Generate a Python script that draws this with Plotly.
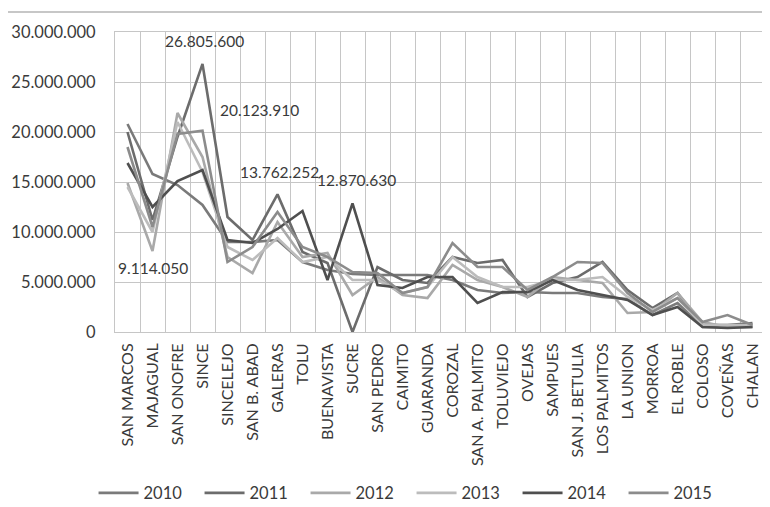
import plotly.graph_objects as go

categories = ["SAN MARCOS", "MAJAGUAL", "SAN ONOFRE", "SINCE", "SINCELEJO", "SAN B. ABAD",
              "GALERAS", "TOLU", "BUENAVISTA", "SUCRE", "SAN PEDRO", "CAIMITO", "GUARANDA",
              "COROZAL", "SAN A. PALMITO", "TOLUVIEJO", "OVEJAS", "SAMPUES", "SAN J. BETULIA",
              "LOS PALMITOS", "LA UNION", "MORROA", "EL ROBLE", "COLOSO", "COVEÑAS", "CHALAN"]

# values in millions of pesos
v2010 = [20.8, 15.8, 14.7, 12.7, 9.0, 9.0, 9.2, 7.0, 6.2, 5.8, 5.7, 5.7, 5.7, 5.2, 4.2,
         3.9, 4.0, 3.9, 3.9, 3.5, 3.3, 1.7, 2.9, 0.5, 0.5, 0.5]
v2011 = [20.0, 11.2, 19.5, 26.8056, 11.5, 9.2, 13.762252, 8.0, 6.9, 0.0, 6.5, 5.2, 4.9, 7.5, 6.9,
         7.2, 3.5, 4.9, 5.5, 7.0, 4.2, 2.4, 3.9, 0.7, 0.7, 0.9]
v2012 = [14.9, 8.1, 21.9, 17.5, 7.5, 5.9, 11.0, 7.5, 7.9, 3.7, 5.5, 3.7, 3.4, 6.7, 5.2,
         4.5, 3.5, 5.5, 5.2, 4.9, 1.9, 2.0, 3.9, 1.0, 0.5, 0.7]
v2013 = [14.5, 10.0, 21.0, 16.0, 8.5, 7.2, 9.4, 7.0, 7.5, 5.2, 5.2, 3.9, 4.5, 7.5, 5.5,
         4.5, 4.5, 5.2, 5.2, 5.5, 3.5, 2.2, 3.4, 0.7, 0.7, 0.7]
v2014 = [16.9, 12.5, 15.1, 16.2, 9.2, 8.9, 10.3, 12.1, 5.2, 12.87063, 4.7, 4.4, 5.5, 5.5, 2.9,
         4.0, 4.0, 5.2, 4.2, 3.7, 3.2, 1.7, 2.5, 0.5, 0.4, 0.5]
v2015 = [18.5, 10.5, 19.8, 20.12391, 7.0, 8.5, 12.0, 8.5, 7.5, 6.0, 5.9, 3.9, 4.5, 8.9, 6.5,
         6.5, 4.2, 5.5, 7.0, 6.9, 3.9, 2.0, 3.4, 1.0, 1.7, 0.7]

years = ["2010", "2011", "2012", "2013", "2014", "2015"]
series = [v2010, v2011, v2012, v2013, v2014, v2015]
colors = ["#7a7a7a", "#6c6c6c", "#a9a9a9", "#bcbcbc", "#4f4f4f", "#8c8c8c"]

labels = [  # (category, series index, text, xshift, yshift)
    ("SINCE", 1, "26.805.600", 2, 23),
    ("SINCE", 5, "20.123.910", 57, 21),
    ("GALERAS", 1, "13.762.252", 2, 22),
    ("SUCRE", 4, "12.870.630", 4, 23),
    ("MAJAGUAL", 2, "9.114.050", 0, -17),
]

FONT = "Lato, Calibri, sans-serif"
idx = list(range(len(categories)))
bounds = [i - 0.5 for i in range(len(categories) + 1)]

fig = go.Figure()
for name, vals, col in zip(years, series, colors):
    fig.add_trace(go.Scatter(x=idx, y=[v * 1e6 for v in vals], name=name, mode="lines",
                             line=dict(color=col, width=2.6)))

for cat, si, txt, xs, ys in labels:
    i = categories.index(cat)
    fig.add_annotation(x=i, y=series[si][i] * 1e6, text=txt,
                       showarrow=False, xshift=xs, yshift=ys,
                       font=dict(family=FONT, size=15.5, color="#3a3a3a"))

fig.add_shape(type="line", xref="paper", yref="paper", x0=-0.17, x1=1.01, y0=1.0667, y1=1.0667,
              line=dict(color="#b4b4b4", width=1.5))

# page body adds an 8px offset, so the figure is drawn 8px smaller
fig.update_layout(
    width=762, height=499,
    margin=dict(l=107, r=5, t=24, b=175, autoexpand=False),
    paper_bgcolor="white", plot_bgcolor="white",
    separators=",.",
    font=dict(family=FONT, color="#3a3a3a"),
    showlegend=True,
    legend=dict(orientation="h", x=-0.033, xanchor="left", y=-0.537, yanchor="middle",
                font=dict(family=FONT, size=16.5, color="#3a3a3a"),
                entrywidth=51, entrywidthmode="pixels", itemwidth=40,
                bgcolor="rgba(0,0,0,0)"),
)
fig.update_xaxes(range=[-0.5, 25.5], tickvals=idx, ticktext=categories,
                 showgrid=False, zeroline=False,
                 minor=dict(tickmode="array", tickvals=bounds, showgrid=True,
                            gridcolor="#c6c6c6", gridwidth=1.2, ticks=""),
                 showline=True, linecolor="#c6c6c6", mirror=True, automargin=False,
                 tickangle=-90, ticks="", ticklabelstandoff=4,
                 tickfont=dict(family=FONT, size=16, color="#3a3a3a"))
fig.update_yaxes(range=[0, 30e6], tickvals=[0, 5e6, 10e6, 15e6, 20e6, 25e6, 30e6], tickformat=",d",
                 showgrid=True, gridcolor="#c6c6c6", gridwidth=1.2, zeroline=False,
                 showline=True, linecolor="#c6c6c6", mirror=True, ticks="", automargin=False,
                 ticklabelstandoff=15,
                 tickfont=dict(family=FONT, size=16.5, color="#3a3a3a"))

fig.write_html("out.html")
